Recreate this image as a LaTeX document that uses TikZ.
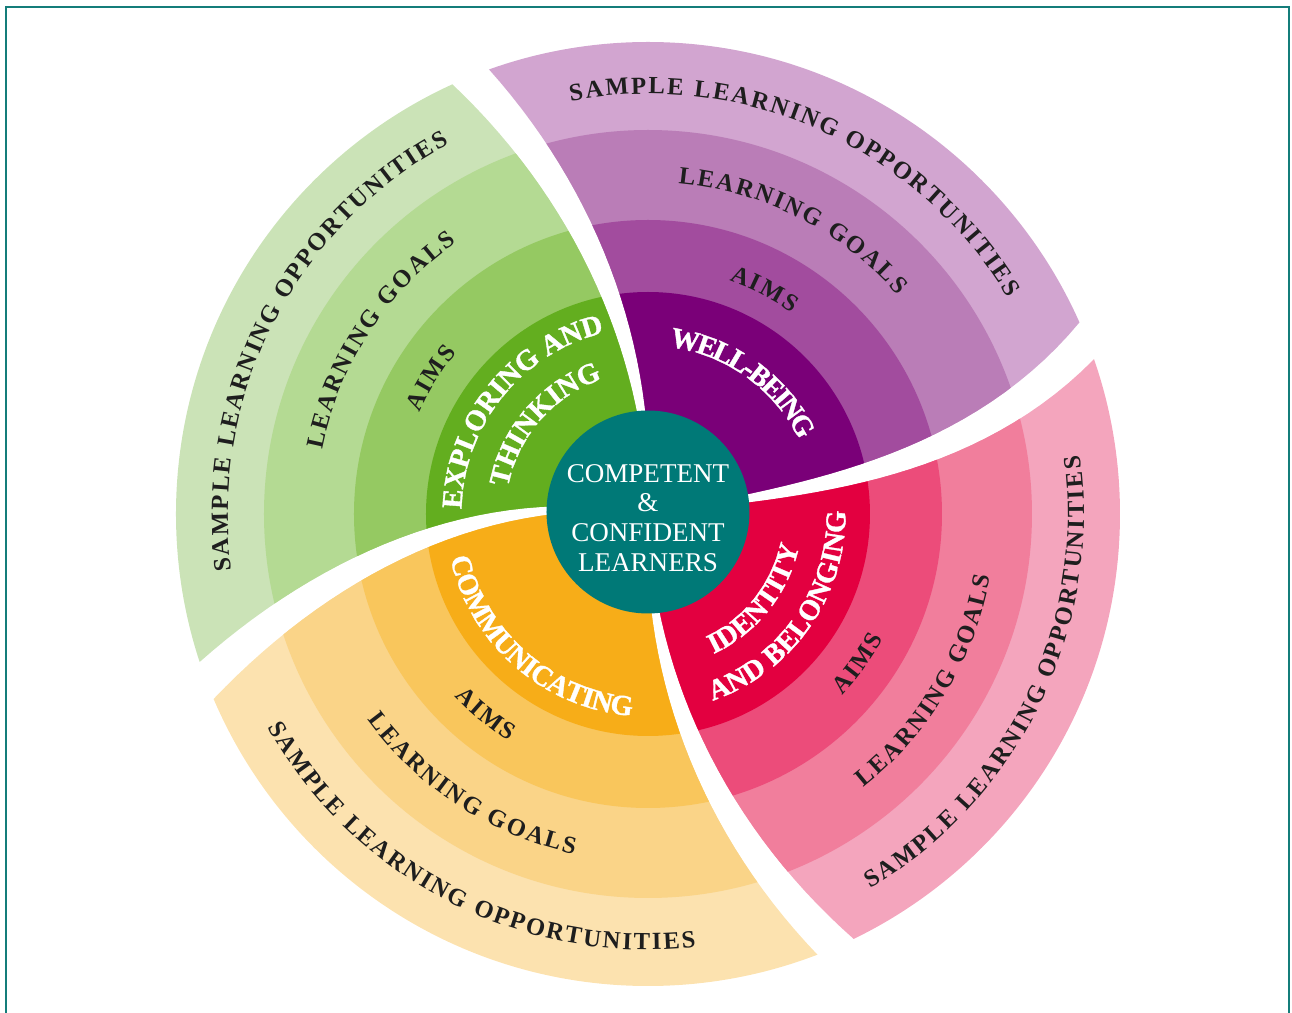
\documentclass[tikz,border=0pt]{standalone}
\usepackage{xcolor}
\usepackage{fontspec}
\setmainfont{Liberation Serif}
\newfontfamily\heavyserif[FakeBold=1.2]{Liberation Serif}
\usepackage{tikz}
\usetikzlibrary{decorations.text}

\definecolor{frameteal}{HTML}{147D7A}
\definecolor{coreteal}{HTML}{007977}
\definecolor{labeldark}{HTML}{1E1E1E}
% purple
\definecolor{purA}{HTML}{7A0078}
\definecolor{purB}{HTML}{A24C9E}
\definecolor{purC}{HTML}{BA7DB7}
\definecolor{purD}{HTML}{D2A5D0}
% green
\definecolor{grnA}{HTML}{63AE1F}
\definecolor{grnB}{HTML}{95C962}
\definecolor{grnC}{HTML}{B4DA93}
\definecolor{grnD}{HTML}{CBE3B7}
% orange
\definecolor{ornA}{HTML}{F7AD18}
\definecolor{ornB}{HTML}{F9C65C}
\definecolor{ornC}{HTML}{FAD488}
\definecolor{ornD}{HTML}{FCE2AF}
% pink
\definecolor{pnkA}{HTML}{E30040}
\definecolor{pnkB}{HTML}{EC4C7A}
\definecolor{pnkC}{HTML}{F17E9C}
\definecolor{pnkD}{HTML}{F4A5BD}

\tikzset{
  declare function={
    gpp(\r)=8.82-0.657*\r+0.71*\r*\r;
    ggp(\r)=88.8+4.93*\r;
    gog(\r)=170.96+7.363*\r-0.227*\r*\r;
    gpo(\r)=269.4+5.09*\r;
  },
  darklabel/.style={font=\bfseries\fontsize{7}{8}\selectfont, text=labeldark},
  whitelabel/.style={font=\heavyserif\bfseries\fontsize{8.2}{9}\selectfont, text=white},
}

% one quadrant: lower gap, upper gap, ring colours from outside in
\newcommand{\quadrant}[6]{%
  \begin{scope}
    \clip (0,0) -- plot[domain=0.6:5.2, variable=\s, samples=30] ({#1(\s)+2.4}:\s)
      arc[start angle={#1(5.2)+2.4}, end angle={#2(5.2)-2.4}, radius=5.2]
      -- plot[domain=5.2:0.6, variable=\s, samples=30] ({#2(\s)-2.4}:\s) -- cycle;
    \fill[#3] (0,0) circle (4.72);
    \fill[#4] (0,0) circle (3.84);
    \fill[#5] (0,0) circle (2.94);
    \fill[#6] (0,0) circle (2.22);
  \end{scope}}

% text on a ring: style, letter gap, baseline radius, centre angle, text
\newcommand{\arcdown}[5]{% clockwise, tops outward
  \path[#1, decorate, decoration={text effects along path, text={#5}, text align=center,
      text effects/.cd, text along path, characters={inner sep=0pt},
      character widths={inner xsep=#2}}]
    ({#4+80}:#3) arc[start angle={#4+80}, end angle={#4-80}, radius=#3];}
\newcommand{\arcup}[5]{% anticlockwise, tops inward
  \path[#1, decorate, decoration={text effects along path, text={#5}, text align=center,
      text effects/.cd, text along path, characters={inner sep=0pt},
      character widths={inner xsep=#2}}]
    ({#4-80}:#3) arc[start angle={#4-80}, end angle={#4+80}, radius=#3];}

\begin{document}
\begin{tikzpicture}
\useasboundingbox (-6.48,-4.99) rectangle (6.44,5.14);

% Frame
\draw[frameteal, line width=0.65pt] (-6.42,-5.4) -- (-6.42,5.07) -- (6.41,5.07) -- (6.41,-5.4);

% Quadrants
\quadrant{gpp}{ggp}{purD}{purC}{purB}{purA}
\quadrant{ggp}{gog}{grnD}{grnC}{grnB}{grnA}
\quadrant{gog}{gpo}{ornD}{ornC}{ornB}{ornA}
\quadrant{gpo}{360+gpp}{pnkD}{pnkC}{pnkB}{pnkA}

% Centre
\node[circle, fill=coreteal, minimum size=2.03cm, inner sep=0pt] (core) at (0,0.02) {};
\node[align=center, text=white, font=\fontsize{7.7}{8.5}\selectfont] (coretext)
  at ([yshift=-0.06cm]core.center) {COMPETENT\\\&\\CONFIDENT\\LEARNERS};

% Well-being
\arcdown{whitelabel}{-0.35pt}{1.685}{54.4}{WELL-BEING}
\arcdown{darklabel}{0.3pt}{2.47}{62.6}{AIMS}
\arcdown{darklabel}{0.3pt}{3.32}{63}{LEARNING GOALS}
\arcdown{darklabel}{0.3pt}{4.20}{65.8}{SAMPLE LEARNING OPPORTUNITIES}

% Exploring and thinking
\arcdown{whitelabel}{0pt}{1.865}{141}{EXPLORING AND}
\arcdown{whitelabel}{0pt}{1.425}{139}{THINKING}
\arcdown{darklabel}{0.3pt}{2.50}{148}{AIMS}
\arcdown{darklabel}{0.3pt}{3.32}{147}{LEARNING GOALS}
\arcdown{darklabel}{0.3pt}{4.20}{153}{SAMPLE LEARNING OPPORTUNITIES}

% Communicating
\arcup{whitelabel}{-0.1pt}{2.025}{229}{COMMUNICATING}
\arcup{darklabel}{0.3pt}{2.66}{231}{AIMS}
\arcup{darklabel}{0.3pt}{3.48}{237}{LEARNING GOALS}
\arcup{darklabel}{0.3pt}{4.36}{242.8}{SAMPLE LEARNING OPPORTUNITIES}

% Identity and belonging
\arcup{whitelabel}{0pt}{1.545}{-38.5}{IDENTITY}
\arcup{whitelabel}{0pt}{1.975}{-35}{AND BELONGING}
\arcup{darklabel}{0.3pt}{2.66}{-35.5}{AIMS}
\arcup{darklabel}{0.3pt}{3.48}{-31}{LEARNING GOALS}
\arcup{darklabel}{0.3pt}{4.36}{-25.8}{SAMPLE LEARNING OPPORTUNITIES}
\end{tikzpicture}
\end{document}
